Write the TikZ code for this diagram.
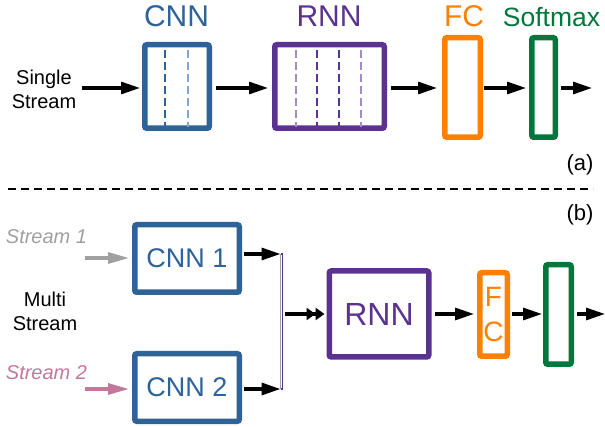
\documentclass[tikz,border=0pt]{standalone}
\usepackage{fontspec}
\setmainfont{Liberation Sans}
\usetikzlibrary{arrows.meta}
\definecolor{cblue}{RGB}{46,99,153}
\definecolor{cbluel}{RGB}{130,165,200}
\definecolor{cpurple}{RGB}{92,50,145}
\definecolor{cpurplel}{RGB}{165,140,200}
\definecolor{corange}{RGB}{255,128,0}
\definecolor{cgreen}{RGB}{0,120,60}
\definecolor{cgray}{RGB}{160,160,160}
\definecolor{cpink}{RGB}{194,120,155}
\tikzset{
  blk/.style={draw, line width=5.5pt, rounded corners=2pt, inner sep=0pt, fill=white},
  arr/.style={line width=3.2pt, -{Triangle[length=19pt,width=12pt]}},
  darr/.style={line width=3.2pt, -{Triangle[length=9pt,width=12pt]Triangle[length=9pt,width=12pt]}},
  sarr/.style={line width=3.2pt, -{Triangle[length=21pt,width=11pt]}},
  inner/.style={line width=1.2pt, dash pattern=on 8pt off 4pt},
  ttl/.style={font=\fontsize{30}{32}\selectfont, anchor=base},
  lbl/.style={font=\fontsize{20}{24}\selectfont, align=center},
}
\begin{document}
\begin{tikzpicture}[x=1pt,y=-1pt]
\useasboundingbox (0,0) rectangle (605,427);
% ---------- (a) single stream ----------
\node[ttl, text=cblue] (tcnn) at (176.5,27) {CNN};
\node[ttl, text=cpurple] (trnn) at (329,27) {RNN};
\node[ttl, text=corange] (tfc) at (464,27) {FC};
\node[ttl, text=cgreen, font=\fontsize{26.5}{28}\selectfont] (tsm) at (551.5,26.5) {Softmax};

\node[lbl] (ss) at (44,89) {Single\\Stream};

\node[blk, draw=cblue, minimum width=64.5pt, minimum height=83.5pt] (cnn) at (177,86.5) {};
\node[blk, draw=cpurple, minimum width=109.5pt, minimum height=83.5pt] (rnn) at (329.5,86.5) {};
\node[blk, draw=corange, minimum width=35.5pt, minimum height=99.5pt] (fc) at (462.5,87.5) {};
\node[blk, draw=cgreen, minimum width=23.5pt, minimum height=99.5pt] (sm) at (543.5,87.5) {};

\draw[inner, cblue] (165,50) -- (165,127);
\draw[inner, cbluel] (188,50) -- (188,127);
\draw[inner, cpurplel] (296,50) -- (296,127);
\draw[inner, cpurple] (317,50) -- (317,127);
\draw[inner, cpurple] (339,50) -- (339,127);
\draw[inner, cpurplel] (361,50) -- (361,127);

\coordinate (s0) at (82,88);
\coordinate (out1) at (592,88);
\draw[arr] (s0) -- ([xshift=-2pt]cnn.west |- s0);
\draw[arr] ([xshift=4pt]cnn.east |- s0) -- ([xshift=-4pt]rnn.west |- s0);
\draw[arr] ([xshift=4pt]rnn.east |- s0) -- ([xshift=-5pt]fc.west |- s0);
\draw[arr] ([xshift=1pt]fc.east |- s0) -- ([xshift=-3pt]sm.west |- s0);
\draw[arr] ([xshift=3pt]sm.east |- s0) -- (out1);

\node[font=\fontsize{22}{24}\selectfont] (la) at (580,165) {(a)};
\coordinate (d1) at (8,189);
\coordinate (d2) at (593,189);
\draw[line width=1.5pt, dash pattern=on 8pt off 5pt] (d1) -- (d2);
\node[font=\fontsize{22}{24}\selectfont] (lb) at (580,215) {(b)};

% ---------- (b) multi stream ----------
\node[lbl, text=cgray, font=\fontsize{20}{24}\selectfont\itshape] (st1) at (46.5,237) {Stream 1};
\node[lbl] (ms) at (45,311.5) {Multi\\Stream};
\node[lbl, text=cpink, font=\fontsize{20}{24}\selectfont\itshape] (st2) at (46.5,373) {Stream 2};

\node[blk, draw=cblue, minimum width=104.5pt, minimum height=67.5pt, text=cblue,
      font=\fontsize{27}{29}\selectfont] (cnn1) at (187,258.5) {CNN 1};
\node[blk, draw=cblue, minimum width=104.5pt, minimum height=67.5pt, text=cblue,
      font=\fontsize{27}{29}\selectfont] (cnn2) at (187,387.5) {CNN 2};
\node[blk, draw=cpurple, minimum width=99.5pt, minimum height=86pt, text=cpurple,
      font=\fontsize{32}{34}\selectfont] (rnn2) at (379,314) {RNN};
\node[blk, draw=corange, minimum width=27.5pt, minimum height=83.5pt, text=corange,
      font=\fontsize{28}{35}\selectfont, align=center] (fc2) at (493.5,314.5) {F\\C};
\node[blk, draw=cgreen, minimum width=25.5pt, minimum height=99.5pt] (sm2) at (558.5,314.5) {};

\coordinate (s1) at (84.5,258);
\coordinate (s2) at (84.5,389);
\draw[sarr, cgray] (s1) -- ([xshift=-3pt]cnn1.west |- s1);
\draw[sarr, cpink] (s2) -- ([xshift=-3pt]cnn2.west |- s2);

\coordinate (bt) at (280.5,254);
\coordinate (bb) at (280.5,389);
\draw[arr] ([xshift=2pt]cnn1.east |- bt) -- (bt);
\draw[arr] ([xshift=2pt]cnn2.east |- bb) -- (bb);
\draw[line width=1.8pt, cgray] (bt) -- (bb);
\coordinate (pt) at (282.5,254);
\coordinate (pb) at (282.5,389);
\draw[line width=1.2pt, cpurple] (bt) -- (pt) -- (pb) -- (bb);

\coordinate (bm) at (285,314);
\draw[darr] (bm) -- ([xshift=-2pt]rnn2.west |- bm);
\draw[arr] ([xshift=3pt]rnn2.east |- bm) -- ([xshift=-3pt]fc2.west |- bm);
\draw[arr] ([xshift=2pt]fc2.east |- bm) -- ([xshift=-1pt]sm2.west |- bm);
\coordinate (out2) at (605,314);
\draw[arr] ([xshift=3pt]sm2.east |- bm) -- (out2);
\end{tikzpicture}
\end{document}
